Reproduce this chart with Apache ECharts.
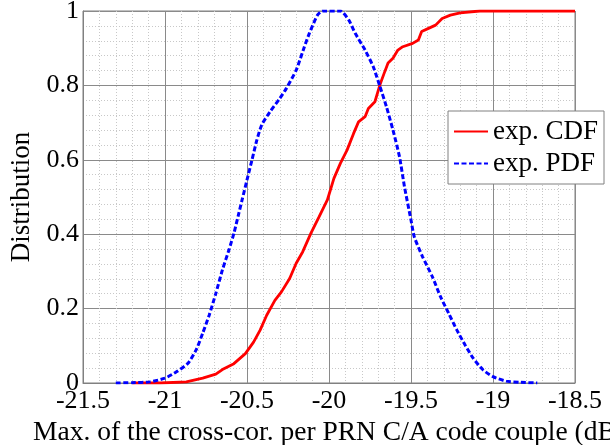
<!DOCTYPE html>
<html>
<head>
<meta charset="utf-8">
<script src="https://cdn.jsdelivr.net/npm/echarts@6/dist/echarts.min.js"></script>
<style>
html,body{margin:0;padding:0;background:#fff;}
#c{width:610px;height:445px;}
</style>
</head>
<body>
<div id="c"></div>
<script>
// Experimental PDF (blue dashed)
const pdfX = [-21.3, -21.2, -21.09, -21.0, -20.93, -20.86, -20.81, -20.77, -20.73, -20.69, -20.65, -20.61, -20.58, -20.55, -20.53, -20.5, -20.47, -20.44, -20.41, -20.36, -20.3, -20.26, -20.2, -20.15, -20.12, -20.07, -20.04, -19.93, -19.88, -19.84, -19.78, -19.73, -19.69, -19.65, -19.61, -19.57, -19.54, -19.5, -19.48, -19.43, -19.37, -19.32, -19.27, -19.22, -19.17, -19.12, -19.06, -19.0, -18.92, -18.84, -18.73];
const pdfY = [0, 0.001, 0.003, 0.013, 0.030, 0.053, 0.089, 0.134, 0.183, 0.241, 0.304, 0.358, 0.402, 0.456, 0.492, 0.546, 0.599, 0.653, 0.694, 0.729, 0.765, 0.792, 0.841, 0.904, 0.940, 0.989, 1.0, 1.0, 0.976, 0.940, 0.895, 0.850, 0.798, 0.743, 0.680, 0.608, 0.528, 0.438, 0.393, 0.340, 0.286, 0.232, 0.187, 0.142, 0.102, 0.066, 0.035, 0.017, 0.005, 0.002, 0];

// Experimental CDF (red solid)
const cdfX = [-21.2, -21.03, -20.87, -20.77, -20.69, -20.65, -20.58, -20.51, -20.46, -20.42, -20.38, -20.33, -20.29, -20.24, -20.2, -20.16, -20.11, -20.06, -20.01, -19.97, -19.93, -19.89, -19.85, -19.82, -19.78, -19.76, -19.72, -19.69, -19.66, -19.64, -19.61, -19.58, -19.55, -19.49, -19.455, -19.435, -19.39, -19.35, -19.31, -19.26, -19.2, -19.08, -18.5];
const cdfY = [0, 0, 0.003, 0.013, 0.024, 0.036, 0.052, 0.079, 0.110, 0.142, 0.182, 0.222, 0.245, 0.281, 0.322, 0.353, 0.403, 0.447, 0.492, 0.55, 0.591, 0.626, 0.671, 0.702, 0.716, 0.738, 0.756, 0.801, 0.837, 0.860, 0.873, 0.895, 0.904, 0.913, 0.922, 0.945, 0.954, 0.962, 0.980, 0.989, 0.995, 1.0, 1.0];

const seriesNames = ['exp. CDF', 'exp. PDF'];
const xName = 'Max. of the cross-cor. per PRN C/A code couple (dB)';
const yName = 'Distribution';

const FONT = 'Liberation Serif';
const zip = (xs, ys) => xs.map((x, i) => [x, ys[i]]);

const chart = echarts.init(document.getElementById('c'), null, {renderer: 'canvas'});
chart.setOption({
  animation: false,
  backgroundColor: '#fff',
  textStyle: {fontFamily: FONT, color: '#000'},
  grid: {left: 83, right: 35, top: 11, bottom: 62, containLabel: false, outerBoundsMode: 'none',
         show: true, borderColor: '#808080', borderWidth: 1, backgroundColor: 'transparent'},
  legend: {
    orient: 'vertical',
    left: 448, top: 111,
    data: seriesNames,
    itemWidth: 34, itemHeight: 14, itemGap: 5,
    padding: [7, 6, 7, 5],
    backgroundColor: '#fff',
    borderColor: '#808080', borderWidth: 1,
    itemStyle: {opacity: 0},
    textStyle: {fontFamily: FONT, fontSize: 27, color: '#000'}
  },
  xAxis: {
    type: 'value', min: -21.5, max: -18.5, interval: 0.5,
    name: xName, nameLocation: 'middle', nameGap: 28,
    nameTextStyle: {fontFamily: FONT, fontSize: 27.5, color: '#000'},
    axisLine: {show: true, onZero: false, lineStyle: {color: '#808080', width: 1}},
    axisTick: {show: false},
    axisLabel: {fontFamily: FONT, fontSize: 26, color: '#000', margin: 5},
    splitLine: {show: true, lineStyle: {color: '#8a8a8a', width: 1}},
    minorTick: {show: false, splitNumber: 5},
    minorSplitLine: {show: true, lineStyle: {color: '#c8c8c8', width: 1, type: [1, 2]}}
  },
  yAxis: {
    type: 'value', min: 0, max: 1, interval: 0.2,
    name: yName, nameLocation: 'middle', nameGap: 45, nameRotate: 90,
    nameTextStyle: {fontFamily: FONT, fontSize: 27, color: '#000'},
    axisLine: {show: true, lineStyle: {color: '#808080', width: 1}},
    axisTick: {show: false},
    axisLabel: {fontFamily: FONT, fontSize: 26, color: '#000', margin: 4},
    splitLine: {show: true, lineStyle: {color: '#8a8a8a', width: 1}},
    minorTick: {show: false, splitNumber: 5},
    minorSplitLine: {show: true, lineStyle: {color: '#c8c8c8', width: 1, type: [1, 2]}}
  },
  series: [
    {
      name: seriesNames[0], type: 'line', data: zip(cdfX, cdfY),
      symbol: 'none', smooth: false, z: 3,
      lineStyle: {color: '#ff0000', width: 2.8},
      itemStyle: {color: '#ff0000'}
    },
    {
      name: seriesNames[1], type: 'line', data: zip(pdfX, pdfY),
      symbol: 'none', smooth: 0.2, z: 4,
      lineStyle: {color: '#0000ff', width: 3, type: [5, 2.5]},
      itemStyle: {color: '#0000ff'}
    }
  ]
});
</script>
</body>
</html>
